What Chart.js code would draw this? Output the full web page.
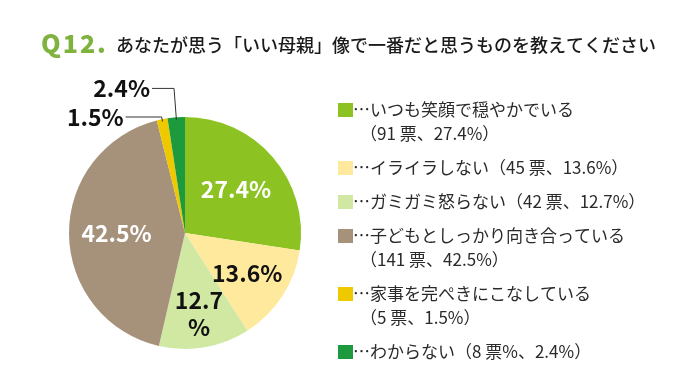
<!DOCTYPE html>
<html>
<head>
    <meta charset="utf-8">
    <title>Q12 いい母親像</title>
    <style>
        * {
            margin: 0;
            padding: 0;
            box-sizing: border-box;
        }

        body {
            background: #fff;
            width: 680px;
            height: 377px;
            overflow: hidden;
        }

        .wrap {
            position: relative;
            width: 680px;
            height: 377px;
        }
    </style>
</head>
<body>
    <div class="wrap">
        <canvas id="pieChart" width="680" height="377"></canvas>
    </div>
    <script src="https://cdn.jsdelivr.net/npm/chart.js"></script>
    <script>
        // データ
        var categories = ['いつも笑顔で穏やかでいる', 'イライラしない', 'ガミガミ怒らない', '子どもとしっかり向き合っている', '家事を完ぺきにこなしている', 'わからない'];
        var votes = [91, 45, 42, 141, 5, 8];
        var percentLabels = ['27.4%', '13.6%', '12.7\n%', '42.5%', '1.5%', '2.4%'];
        var legendNotes = ['（91 票、27.4%）', '（45 票、13.6%）', '（42 票、12.7%）', '（141 票、42.5%）', '（5 票、1.5%）', '（8 票%、2.4%）'];
        var legendWrap = [true, false, false, true, true, false];
        var colors = ['#8cc221', '#fee99c', '#d1e8a3', '#a6927a', '#efc900', '#1c9a3d'];

        var titleQ = 'Q12.';
        var titleText = 'あなたが思う「いい母親」像で一番だと思うものを教えてください';

        var JP = '"Noto Sans CJK JP", "Noto Sans", sans-serif';

        // ラベル位置（スタイル）
        var labelStyle = [
            { r: 0.58, color: '#fff' },
            { r: 0.64, color: '#111' },
            { r: 0.71, color: '#111' },
            { r: 0.59, color: '#fff' },
            { outside: true, ext: 1.02, len: 36 },
            { outside: true, ext: 1.25, len: 22 }
        ];

        // タイトル・凡例・ラベルを描くプラグイン
        var decoPlugin = {
            id: 'deco',
            afterDraw: function (chart) {
                var ctx = chart.ctx;
                ctx.save();

                // タイトル
                ctx.textBaseline = 'alphabetic';
                ctx.textAlign = 'left';
                ctx.fillStyle = '#7fb23e';
                ctx.font = '900 25px ' + JP;
                ctx.letterSpacing = '2px';
                ctx.fillText(titleQ, 41, 53);
                ctx.letterSpacing = '0px';
                ctx.fillStyle = '#1a1a1a';
                ctx.font = '500 18px ' + JP;
                ctx.fillText(titleText, 116, 52);

                // 凡例
                var y = 110;
                for (var i = 0; i < categories.length; i++) {
                    ctx.fillStyle = colors[i];
                    ctx.fillRect(338, y - 7, 15, 14);
                    ctx.fillStyle = '#2a2a2a';
                    ctx.font = '400 17px ' + JP;
                    ctx.textBaseline = 'middle';
                    var line1 = '…' + categories[i];
                    if (legendWrap[i]) {
                        ctx.fillText(line1, 353, y);
                        y += 24;
                        ctx.fillText(legendNotes[i], 360, y);
                    } else {
                        ctx.fillText(line1 + legendNotes[i], 353, y);
                    }
                    y += 34;
                }

                // 円グラフのラベル
                var meta = chart.getDatasetMeta(0);
                meta.data.forEach(function (arc, i) {
                    var p = arc.getProps(['x', 'y', 'startAngle', 'endAngle', 'outerRadius'], true);
                    var mid = (p.startAngle + p.endAngle) / 2;
                    var st = labelStyle[i];
                    ctx.font = '700 23px ' + JP;
                    ctx.textBaseline = 'middle';
                    if (st.outside) {
                        var ex = p.x + Math.cos(mid) * p.outerRadius * 0.98;
                        var ey = p.y + Math.sin(mid) * p.outerRadius * 0.98;
                        var bx = p.x + Math.cos(mid) * p.outerRadius * st.ext;
                        var by = p.y + Math.sin(mid) * p.outerRadius * st.ext;
                        ctx.strokeStyle = '#333';
                        ctx.lineWidth = 1;
                        ctx.beginPath();
                        ctx.moveTo(ex, ey);
                        ctx.lineTo(bx, by);
                        ctx.lineTo(bx - st.len, by);
                        ctx.stroke();
                        ctx.fillStyle = '#111';
                        ctx.textAlign = 'right';
                        ctx.fillText(percentLabels[i], bx - st.len - 2, by);
                    } else {
                        var lx = p.x + Math.cos(mid) * p.outerRadius * st.r;
                        var ly = p.y + Math.sin(mid) * p.outerRadius * st.r;
                        ctx.fillStyle = st.color;
                        ctx.textAlign = 'center';
                        var lines = percentLabels[i].split('\n');
                        var lh = 27;
                        lines.forEach(function (t, k) {
                            ctx.fillText(t, lx, ly + (k - (lines.length - 1) / 2) * lh);
                        });
                    }
                });

                ctx.restore();
            }
        };

        var ctx = document.getElementById('pieChart').getContext('2d');
        var pieChart = new Chart(ctx, {
            type: 'pie',
            data: {
                labels: categories,
                datasets: [{
                    data: votes,
                    backgroundColor: colors,
                    borderWidth: 0
                }]
            },
            options: {
                responsive: false,
                animation: false,
                layout: {
                    padding: { left: 69, right: 379, top: 117, bottom: 28 }
                },
                plugins: {
                    legend: { display: false },
                    tooltip: { enabled: false }
                }
            },
            plugins: [decoPlugin]
        });
    </script>
</body>
</html>
